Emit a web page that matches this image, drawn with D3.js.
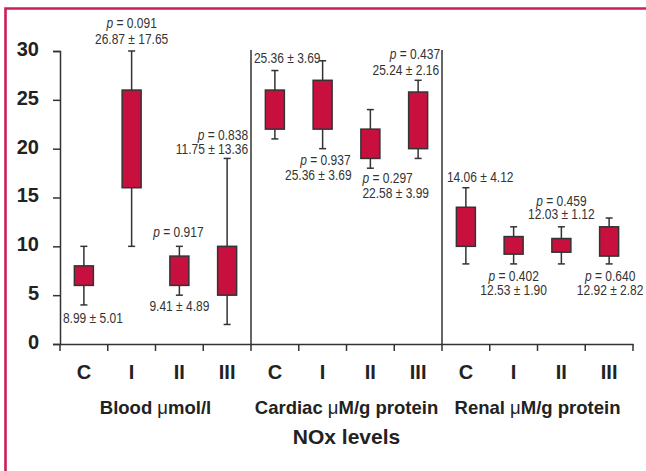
<!DOCTYPE html>
<html>
<head>
<meta charset="utf-8">
<script src="https://cdn.jsdelivr.net/npm/d3@7"></script>
<style>
  body { margin: 0; background: #fff; }
  svg { display: block; }
  .note { font-family: "Liberation Sans", Arial, sans-serif; font-size: 15px; fill: #333; }
  .bold { font-family: "Liberation Sans", Arial, sans-serif; font-weight: bold; fill: #222; }
</style>
</head>
<body>
<svg id="chart" width="646" height="471"></svg>
<script>
// tissue groups and treatment groups
var groups = ["Blood", "Cardiac", "Renal"]
var groupUnits = ["mol/l", "M/g protein", "M/g protein"]
var treatments = ["C", "I", "II", "III"]

// box plot values, one per group x treatment (Blood C..III, Cardiac C..III, Renal C..III)
var whiskerLow  = [4, 10, 5, 2,   21, 20, 18, 19,   8.2, 8.2, 8.2, 8.2]
var boxLow      = [6, 16, 6, 5,   22, 22, 19, 20,   10, 9.2, 9.4, 9]
var boxHigh     = [8, 26, 9, 10,  26, 27, 22, 25.8, 14, 11, 10.8, 12]
var whiskerHigh = [10, 30, 10, 19, 28, 29, 24, 27,  16, 12, 12, 12.9]

// annotations
var pValues = [null, "0.091", "0.917", "0.838", null, "0.937", "0.297", "0.437", null, "0.402", "0.459", "0.640"]
var meanSd = ["8.99 ± 5.01", "26.87 ± 17.65", "9.41 ± 4.89", "11.75 ± 13.36",
              "25.36 ± 3.69", "25.36 ± 3.69", "22.58 ± 3.99", "25.24 ± 2.16",
              "14.06 ± 4.12", "12.53 ± 1.90", "12.03 ± 1.12", "12.92 ± 2.82"]

var yTicks = [0, 5, 10, 15, 20, 25, 30]

// where each annotation sits relative to its box (layout only)
var pLayout = [null,
  { at: "top", dx: 0, dy: -23, anchor: "middle" },
  { at: "top", dx: -1, dy: -9, anchor: "middle" },
  { at: "top", dx: 21, dy: -18, anchor: "end" },
  null,
  { at: "low", dx: 28, dy: 16, anchor: "end" },
  { at: "low", dx: -8, dy: 15, anchor: "start" },
  { at: "top", dx: 22, dy: -21, anchor: "end" },
  null,
  { at: "low", dx: 0, dy: 17, anchor: "middle" },
  { at: "top", dx: 0, dy: -21, anchor: "middle" },
  { at: "low", dx: 1, dy: 17, anchor: "middle" }]
var meanLayout = [
  { at: "low", dx: 9, dy: 18, anchor: "middle" },
  { at: "top", dx: 0, dy: -7, anchor: "middle" },
  { at: "low", dx: 0, dy: 15.5, anchor: "middle" },
  { at: "top", dx: 21, dy: -4, anchor: "end" },
  { at: "top", dx: -21, dy: -7.5, anchor: "start" },
  { at: "low", dx: 29, dy: 31, anchor: "end" },
  { at: "low", dx: -8, dy: 30, anchor: "start" },
  { at: "top", dx: 21, dy: -5, anchor: "end" },
  { at: "top", dx: -19, dy: -6, anchor: "start" },
  { at: "low", dx: 0, dy: 31, anchor: "middle" },
  { at: "top", dx: 0, dy: -8, anchor: "middle" },
  { at: "low", dx: 1, dy: 31, anchor: "middle" }]

var svg = d3.select("#chart")
var plotLeft = 60, plotRight = 633, plotTop = 51, plotBottom = 344
var boxW = 19, capW = 7
var red = "#c8103e"
var narrow = 0.8

// frame
svg.append("path")
  .attr("d", "M5.5,471 V8.5 H646")
  .attr("fill", "none")
  .attr("stroke", "#cc1f55")
  .attr("stroke-width", 2.6)

var keys = []
groups.forEach(function(g) {
  treatments.forEach(function(t) { keys.push(g + "-" + t) })
})

var x = d3.scaleBand().domain(keys).range([plotLeft, plotRight])
var y = d3.scaleLinear().domain([0, 30]).range([plotBottom, plotTop])

// y axis
var yAxis = svg.append("g")
  .attr("transform", "translate(" + plotLeft + ",0)")
  .call(d3.axisLeft(y).tickValues(yTicks).tickSize(7).tickPadding(14))
yAxis.select(".domain").attr("stroke", "#333").attr("stroke-width", 1.5)
yAxis.selectAll(".tick line").attr("stroke", "#333").attr("stroke-width", 1.5)
yAxis.selectAll(".tick text")
  .attr("class", "bold")
  .style("font-size", "20px")
  .attr("dy", "0.22em")

// x axis
var xAxis = svg.append("g")
  .attr("transform", "translate(0," + plotBottom + ")")
  .call(d3.axisBottom(x).tickSize(0).tickFormat(function(d) { return d.split("-")[1] }).tickPadding(21))
xAxis.select(".domain").attr("stroke", "#333").attr("stroke-width", 1.5)
xAxis.selectAll(".tick text").attr("class", "bold").style("font-size", "20px")

// tick marks on band edges
var edges = keys.map(function(k) { return x(k) }).concat([plotRight])
svg.selectAll(".edge").data(edges).enter().append("line")
  .attr("x1", function(d) { return d }).attr("x2", function(d) { return d })
  .attr("y1", plotBottom).attr("y2", plotBottom + 7)
  .attr("stroke", "#333").attr("stroke-width", 1.5)

// group separators
svg.selectAll(".sep").data(groups.slice(1)).enter().append("line")
  .attr("x1", function(d) { return x(d + "-C") }).attr("x2", function(d) { return x(d + "-C") })
  .attr("y1", plotTop - 1).attr("y2", plotBottom)
  .attr("stroke", "#333").attr("stroke-width", 1.5)

// group labels
var gl = svg.selectAll(".glab").data(groups).enter().append("text")
  .attr("class", "bold")
  .style("font-size", "18.5px")
  .attr("text-anchor", "middle")
  .attr("x", function(d) { return x(d + "-C") + x.bandwidth() * 2 })
  .attr("y", 414)
gl.append("tspan").text(function(d) { return d + " " })
gl.append("tspan").style("font-weight", "normal").text("μ")
gl.append("tspan").text(function(d, i) { return groupUnits[i] })

svg.append("text")
  .attr("class", "bold")
  .style("font-size", "21px")
  .attr("text-anchor", "middle")
  .attr("x", (x("Cardiac-C") + x("Cardiac-III") + x.bandwidth()) / 2)
  .attr("y", 444)
  .text("NOx levels")

// boxes
var cx = function(i) { return x(keys[i]) + x.bandwidth() / 2 }
var boxes = svg.selectAll(".box").data(keys).enter().append("g")

boxes.append("line")
  .attr("x1", function(d, i) { return cx(i) }).attr("x2", function(d, i) { return cx(i) })
  .attr("y1", function(d, i) { return y(whiskerLow[i]) })
  .attr("y2", function(d, i) { return y(whiskerHigh[i]) })
  .attr("stroke", "#333").attr("stroke-width", 1.5)
boxes.append("line")
  .attr("x1", function(d, i) { return cx(i) - capW / 2 }).attr("x2", function(d, i) { return cx(i) + capW / 2 })
  .attr("y1", function(d, i) { return y(whiskerLow[i]) }).attr("y2", function(d, i) { return y(whiskerLow[i]) })
  .attr("stroke", "#333").attr("stroke-width", 1.5)
boxes.append("line")
  .attr("x1", function(d, i) { return cx(i) - capW / 2 }).attr("x2", function(d, i) { return cx(i) + capW / 2 })
  .attr("y1", function(d, i) { return y(whiskerHigh[i]) }).attr("y2", function(d, i) { return y(whiskerHigh[i]) })
  .attr("stroke", "#333").attr("stroke-width", 1.5)
boxes.append("rect")
  .attr("x", function(d, i) { return cx(i) - boxW / 2 })
  .attr("width", boxW)
  .attr("y", function(d, i) { return y(boxHigh[i]) })
  .attr("height", function(d, i) { return y(boxLow[i]) - y(boxHigh[i]) })
  .attr("fill", red)
  .attr("stroke", "#333").attr("stroke-width", 1.5)

// annotations, drawn in a horizontally condensed face
function place(lay, i) {
  var v = lay.at === "top" ? whiskerHigh[i] : whiskerLow[i]
  return "translate(" + (cx(i) + lay.dx) + "," + (y(v) + lay.dy) + ") scale(" + narrow + ",1)"
}
keys.forEach(function(k, i) {
  if (pValues[i]) {
    var t = svg.append("text").attr("class", "note")
      .attr("transform", place(pLayout[i], i)).attr("text-anchor", pLayout[i].anchor)
    t.append("tspan").style("font-style", "italic").text("p")
    t.append("tspan").text(" = " + pValues[i])
  }
  svg.append("text").attr("class", "note")
    .attr("transform", place(meanLayout[i], i)).attr("text-anchor", meanLayout[i].anchor)
    .text(meanSd[i])
})
</script>
</body>
</html>
